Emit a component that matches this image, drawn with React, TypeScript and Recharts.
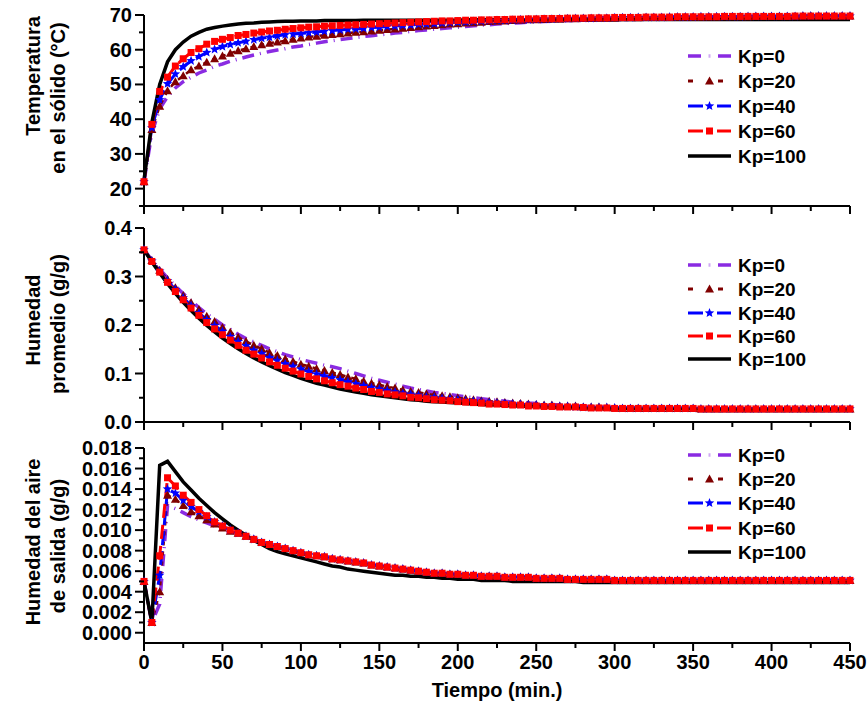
import React from "react";
import { LineChart, Line, XAxis, YAxis } from "recharts";

// time axis (min)
const time = [0,5,10,15,20,25,30,35,40,45,50,55,60,65,70,75,80,85,90,95,100,105,110,115,120,125,130,135,140,145,150,155,160,165,170,175,180,185,190,195,200,205,210,215,220,225,230,235,240,245,250,255,260,265,270,275,280,285,290,295,300,305,310,315,320,325,330,335,340,345,350,355,360,365,370,375,380,385,390,395,400,405,410,415,420,425,430,435,440,445,450];

// panel 1: temperatura en el sólido (°C)
const tempKp0 = [22,36,43,46.5,49,50.8,52.1,53.3,54.2,55.2,55.9,56.7,57.3,57.9,58.5,59,59.5,59.9,60.3,60.8,61.1,61.5,61.9,62.3,62.6,
  62.9,63.2,63.5,63.8,64,64.3,64.5,64.8,65,65.3,65.5,65.7,65.9,66.1,66.3,66.5,66.7,66.9,67.1,67.2,67.4,67.5,67.7,67.8,67.9,68,68.1,68.2,68.3,68.4,68.5,68.5,68.6,68.7,68.7,68.8,
  68.8,68.9,68.9,69,69,69,69.1,69.1,69.1,69.2,69.2,69.2,69.3,69.3,
  69.3,69.3,69.4,69.4,69.4,69.4,69.5,69.5,69.5,69.5,69.5,69.6,69.6,69.6,69.6,69.6];
const tempKp20 = [22,37,43.7,48.2,50.8,52.5,54.2,55.3,56.4,57.4,58.2,59,59.7,60.3,60.9,61.4,61.9,62.2,62.6,63,63.4,63.7,63.9,64.2,64.4,
  64.6,64.8,65,65.2,65.4,65.6,65.8,66,66.2,66.4,66.6,66.8,67,67.2,67.4,67.5,67.7,67.8,67.9,68.1,68.2,68.3,68.4,68.5,68.6,68.6,68.7,68.8,68.8,68.9,68.9,69,69,69.1,69.1,69.1,
  69.2,69.2,69.2,69.3,69.3,69.3,69.3,69.4,69.4,69.4,69.4,69.5,69.5,69.5,
  69.5,69.5,69.5,69.6,69.6,69.6,69.6,69.6,69.6,69.7,69.7,69.7,69.7,69.7,69.7,69.7];
const tempKp40 = [22,37.5,45.6,50.2,53,55.1,56.8,58,59.2,60.1,60.9,61.5,62,62.4,62.9,63.3,63.6,64,64.3,64.5,64.7,64.9,65.1,65.3,65.5,
  65.7,65.9,66,66.2,66.4,66.5,66.7,66.8,67,67.1,67.3,67.4,67.5,67.7,67.8,67.9,68,68.1,68.2,68.3,68.4,68.4,68.5,68.6,68.6,68.7,68.8,68.8,68.9,68.9,69,69,69,69.1,69.1,69.2,
  69.2,69.2,69.3,69.3,69.3,69.3,69.4,69.4,69.4,69.4,69.5,69.5,69.5,69.5,
  69.5,69.5,69.6,69.6,69.6,69.6,69.6,69.6,69.6,69.7,69.7,69.7,69.7,69.7,69.7,69.7];
const tempKp60 = [22,38.5,48,52.1,55.3,57.4,59.2,60.3,61.6,62.4,63,63.5,64.1,64.4,64.8,65.1,65.4,65.6,65.9,66.1,66.3,66.5,66.6,66.8,66.9,
  67,67.1,67.2,67.3,67.4,67.5,67.6,67.7,67.8,67.9,68,68.1,68.2,68.3,68.3,68.4,68.5,68.5,68.6,68.6,68.7,68.7,68.8,68.8,68.9,68.9,69,69,69,69.1,69.1,69.1,69.2,69.2,69.2,69.3,
  69.3,69.3,69.3,69.4,69.4,69.4,69.4,69.5,69.5,69.5,69.5,69.5,69.5,69.6,
  69.6,69.6,69.6,69.6,69.6,69.6,69.6,69.6,69.7,69.7,69.7,69.7,69.7,69.7,69.7,69.7];
const tempKp100 = [22.5,39,50,56.5,60,62.2,63.9,65,65.9,66.4,66.8,67.1,67.4,67.6,67.7,67.9,68,68.1,68.2,68.2,68.3,
  68.3,68.3,68.4,68.4,68.4,68.4,68.4,68.5,68.5,
  68.5,68.5,68.5,68.5,68.5,68.5,68.5,68.5,68.5,68.5,68.5,
  68.6,68.6,68.6,68.6,68.6,68.6,68.6,68.6,68.6,68.6,68.6,68.6,68.6,68.6,68.6,68.6,68.6,68.6,68.6,68.6,
  68.7,68.7,68.7,68.7,68.7,68.7,68.7,68.7,68.7,68.7,68.7,68.7,68.7,68.7,68.7,68.7,68.7,68.7,68.7,68.7,68.7,68.7,68.7,68.7,68.7,68.7,68.7,68.7,68.7,68.7];

// panel 2: humedad promedio (g/g)
const moistKp0 = [0.355,0.334,0.315,0.297,0.28,0.265,0.25,0.236,0.223,0.212,0.2,0.191,0.181,0.172,0.165,0.158,0.151,0.145,0.139,0.134,0.129,0.125,0.121,0.117,0.114,
  0.11,0.105,0.1,0.095,0.09,0.086,0.082,0.078,0.074,0.07,0.067,0.064,0.061,0.059,0.057,0.054,0.052,0.05,0.048,0.046,0.045,0.043,0.041,0.041,0.039,0.038,0.037,0.036,0.035,0.034,0.034,0.032,0.032,0.031,0.031,0.03,
  0.029,0.029,0.029,0.029,0.029,0.028,0.028,0.028,0.028,0.028,0.028,0.028,0.028,0.028,0.028,
  0.027,0.027,0.027,0.027,0.027,0.027,0.027,0.027,0.027,0.027,0.027,0.027,0.027,0.027,0.027];
const moistKp20 = [0.355,0.333,0.313,0.294,0.277,0.261,0.246,0.232,0.218,0.207,0.195,0.185,0.175,0.166,0.158,0.151,0.143,0.137,0.13,0.125,0.119,0.115,0.11,0.106,0.102,
  0.098,0.093,0.089,0.084,0.08,0.077,0.073,0.07,0.066,0.063,0.061,0.058,0.056,0.054,0.052,0.05,0.048,0.046,0.044,0.043,0.042,0.04,0.039,0.038,0.037,0.036,0.035,0.035,0.033,0.033,0.033,0.031,0.031,0.031,0.03,0.029,
  0.028,0.028,0.028,0.028,0.028,0.028,0.028,0.028,0.028,0.028,
  0.027,0.027,0.027,0.027,0.027,0.027,0.027,0.027,0.027,0.027,0.027,0.027,0.027,0.027,0.027,0.027,0.027,0.027,0.027,0.027];
const moistKp40 = [0.355,0.332,0.311,0.291,0.273,0.256,0.24,0.225,0.211,0.199,0.187,0.176,0.166,0.157,0.148,0.141,0.133,0.127,0.12,0.115,0.109,0.104,0.099,0.095,0.091,
  0.087,0.083,0.079,0.075,0.071,0.068,0.065,0.062,0.059,0.057,0.055,0.052,0.051,0.049,0.048,0.046,0.044,0.043,0.041,0.04,0.039,0.038,0.037,0.036,0.035,0.035,0.033,0.033,0.032,0.032,0.031,0.03,0.03,0.03,0.03,0.029,
  0.028,0.028,0.028,0.028,0.028,0.028,0.028,0.028,0.028,0.028,
  0.027,0.027,0.027,0.027,0.027,0.027,0.027,0.027,0.027,0.027,0.027,0.027,0.027,0.027,0.027,0.027,0.027,0.027,0.027,0.027];
const moistKp60 = [0.355,0.331,0.309,0.288,0.269,0.252,0.235,0.22,0.205,0.192,0.18,0.169,0.158,0.148,0.14,0.132,0.124,0.117,0.111,0.105,0.099,0.094,0.089,0.085,0.081,
  0.077,0.074,0.07,0.067,0.063,0.061,0.058,0.056,0.054,0.051,0.05,0.048,0.046,0.045,0.044,0.042,0.041,0.04,0.039,0.037,0.037,0.036,0.035,0.035,0.033,0.033,0.032,0.032,0.031,0.031,0.031,0.03,0.029,0.029,0.029,0.028,
  0.028,0.028,0.028,0.028,0.028,0.028,0.028,0.028,0.028,0.028,
  0.027,0.027,0.027,0.027,0.027,0.027,0.027,0.027,0.027,0.027,0.027,0.027,0.027,0.027,0.027,0.027,0.027,0.027,0.027,0.027];
const moistKp100 = [0.355,0.33,0.307,0.285,0.265,0.247,0.23,0.214,0.199,0.186,0.173,0.162,0.151,0.141,0.132,0.124,0.116,0.109,0.102,0.096,0.09,0.085,0.08,0.076,0.072,
  0.068,0.065,0.062,0.059,0.056,0.054,0.052,0.05,0.048,0.046,0.045,0.043,0.042,0.041,0.04,0.039,0.038,0.037,0.036,0.035,0.035,0.034,0.033,0.033,0.032,0.032,0.031,0.031,0.03,0.03,0.03,0.029,0.029,0.029,0.029,0.028,
  0.028,0.028,0.028,0.028,0.028,0.028,0.028,0.028,0.028,0.028,
  0.027,0.027,0.027,0.027,0.027,0.027,0.027,0.027,0.027,0.027,0.027,0.027,0.027,0.027,0.027,0.027,0.027,0.027,0.027,0.027];

// panel 3: humedad del aire de salida (g/g); from t=60 the marker series coincide
const airTail = [0.0097,0.0094,0.0091,0.0088,0.0086,0.0084,0.0082,0.008,0.0078,0.0076,0.0075,0.0074,0.0072,0.0071,0.007,0.0069,0.0068,
  0.0066,0.0065,0.0064,0.0063,0.0062,0.0061,0.006,0.0059,0.0058,0.0058,0.0057,0.0057,0.0056,0.0056,0.0055,0.0055,0.0055,0.0054,0.0054,0.0054,0.0054,0.0053,0.0053,0.0053,0.0053,0.0052,0.0052,0.0052,0.0052,0.0052,0.0052,0.0051,
  0.0051,0.0051,0.0051,0.0051,0.0051,0.0051,0.0051,0.0051,0.0051,0.0051,0.0051,0.0051,0.0051,0.0051,0.0051,0.0051,0.0051,0.0051,0.0051,0.0051,0.0051,0.0051,0.0051,0.0051,0.0051,0.0051,0.0051,0.0051,0.0051,0.0051];
const airKp0 = [0.005,0.001,0.0028,0.0124,0.0121,0.0117,0.0113,0.011,0.0107,0.0104,0.0101,0.0098, ...airTail];
const airKp20 = [0.005,0.001,0.004,0.0134,0.013,0.0124,0.0118,0.0114,0.011,0.0106,0.0102,0.0099, ...airTail];
const airKp40 = [0.005,0.001,0.0056,0.014,0.0136,0.0129,0.0123,0.0118,0.0113,0.0108,0.0104,0.01, ...airTail];
const airKp60 = [0.005,0.001,0.0075,0.0151,0.0143,0.0134,0.0127,0.012,0.0114,0.0108,0.0104,0.01, ...airTail];
const airKp100 = [0.005,0.001,0.0163,0.0167,0.0157,0.0147,0.0139,0.0131,0.0124,0.0117,0.0111,0.0105,0.01,0.0095,0.009,0.0086,0.0082,0.0079,0.0077,0.0075,0.0073,0.0071,0.0069,0.0067,0.0065,
  0.0064,0.0062,0.0061,0.006,0.0059,0.0058,0.0057,0.0056,0.0056,0.0055,0.0055,0.0054,0.0054,0.0053,0.0053,0.0052,0.0052,0.0052,0.0051,0.0051,0.0051,0.0051,0.005,0.005,0.005,0.005,
  0.005,0.005,0.005,0.005,0.005,0.0049,0.0049,0.0049,0.0049,0.0049,
  0.0049,0.0049,0.0049,0.0049,0.0049,0.0049,0.0049,0.0049,0.0049,0.0049,0.0049,0.0049,0.0049,0.0049,0.0049,0.0049,0.0049,0.0049,0.0049,0.0049,0.0049,0.0049,0.0049,0.0049,0.0049,0.0049,0.0049,0.0049,0.0049,0.0049];

const xTicks = [0,25,50,75,100,125,150,175,200,225,250,275,300,325,350,375,400,425,450];
const tempTicks = [15,20,25,30,35,40,45,50,55,60,65,70];
const moistTicks = [0,0.05,0.1,0.15,0.2,0.25,0.3,0.35,0.4];
const airTicks = [0,0.001,0.002,0.003,0.004,0.005,0.006,0.007,0.008,0.009,0.01,0.011,0.012,0.013,0.014,0.015,0.016,0.017,0.018];
const seriesNames = ["Kp=0", "Kp=20", "Kp=40", "Kp=60", "Kp=100"];

const FONT = '"Liberation Sans", Arial, Helvetica, sans-serif';
const W = 867;
const H = 704;

const styles = [
  { key: "k0", color: "#8a2be2", dash: "12 6 1 6", width: 3.5, marker: null },
  { key: "k20", color: "#800000", dash: "4 6", width: 2.5, marker: "triangle" },
  { key: "k40", color: "#0000ff", dash: "14 6", width: 3, marker: "star" },
  { key: "k60", color: "#ff0000", dash: "14 7", width: 3, marker: "square" },
  { key: "k100", color: "#000000", dash: undefined, width: 3.5, marker: null },
];

function Marker({ kind, cx, cy, color }: any) {
  if (cx == null || cy == null) return null;
  if (kind === "square") {
    return <rect x={cx - 3.5} y={cy - 3.5} width={7} height={7} fill={color} />;
  }
  if (kind === "triangle") {
    return <polygon points={`${cx},${cy - 4.5} ${cx + 4.5},${cy + 3.5} ${cx - 4.5},${cy + 3.5}`} fill={color} />;
  }
  if (kind === "star") {
    const pts: string[] = [];
    for (let i = 0; i < 10; i++) {
      const r = i % 2 === 0 ? 5 : 2.2;
      const a = -Math.PI / 2 + (i * Math.PI) / 5;
      pts.push(`${cx + r * Math.cos(a)},${cy + r * Math.sin(a)}`);
    }
    return <polygon points={pts.join(" ")} fill={color} />;
  }
  return null;
}

function XTick({ x, y, payload, showLabel }: any) {
  const v = payload.value;
  const major = v % 50 === 0;
  return (
    <g>
      <line x1={x} x2={x} y1={y} y2={y + (major ? 8 : 5)} stroke="#000" strokeWidth={2} />
      {showLabel && major && (
        <text x={x} y={y + 26} textAnchor="middle" fontFamily={FONT} fontWeight="bold" fontSize={20} fill="#000">
          {v}
        </text>
      )}
    </g>
  );
}

function YTick({ x, y, payload, isMajor, format }: any) {
  const v = payload.value;
  const major = isMajor(v);
  return (
    <g>
      <line x1={x} x2={x - (major ? 9 : 5)} y1={y} y2={y} stroke="#000" strokeWidth={2} />
      {major && (
        <text x={x - 12} y={y + 7} textAnchor="end" fontFamily={FONT} fontWeight="bold" fontSize={20} fill="#000">
          {format(v)}
        </text>
      )}
    </g>
  );
}

const panels = [
  {
    series: [tempKp0, tempKp20, tempKp40, tempKp60, tempKp100],
    domain: [15, 70],
    ticks: tempTicks,
    top: 15,
    bottom: 206,
    isMajor: (v: number) => v % 10 === 0,
    format: (v: number) => String(v),
    showX: false,
  },
  {
    series: [moistKp0, moistKp20, moistKp40, moistKp60, moistKp100],
    domain: [0, 0.4],
    ticks: moistTicks,
    top: 228,
    bottom: 422,
    isMajor: (v: number) => Math.round(v * 100) % 10 === 0,
    format: (v: number) => v.toFixed(1),
    showX: false,
  },
  {
    series: [airKp0, airKp20, airKp40, airKp60, airKp100],
    domain: [-0.001, 0.018],
    ticks: airTicks,
    top: 448,
    bottom: 643,
    isMajor: (v: number) => Math.round(v * 1000) % 2 === 0,
    format: (v: number) => v.toFixed(3),
    showX: true,
  },
];

const legendRows = [
  [56, 81, 106, 131, 156],
  [265, 289, 313, 336, 359],
  [455, 479, 503, 528, 552],
];

function LegendSample({ idx, y }: { idx: number; y: number }) {
  const s = styles[idx];
  const x0 = 688;
  const x1 = 731;
  const mid = 709.5;
  let line: React.ReactNode;
  if (idx === 0) {
    line = (
      <g stroke={s.color} strokeWidth={3.5}>
        <line x1={x0} x2={x0 + 13} y1={y} y2={y} />
        <line x1={mid - 1} x2={mid + 1} y1={y} y2={y} strokeOpacity={0.4} />
        <line x1={x1 - 13} x2={x1} y1={y} y2={y} />
      </g>
    );
  } else if (idx === 1) {
    line = (
      <g stroke={s.color} strokeWidth={3}>
        <line x1={x0} x2={x0 + 5} y1={y} y2={y} />
        <line x1={x1 - 13} x2={x1 - 8} y1={y} y2={y} />
      </g>
    );
  } else if (idx === 4) {
    line = <line x1={x0} x2={x1} y1={y} y2={y} stroke={s.color} strokeWidth={3.5} />;
  } else {
    line = (
      <g stroke={s.color} strokeWidth={3}>
        <line x1={x0} x2={x0 + 15} y1={y} y2={y} />
        <line x1={x1 - 14} x2={x1} y1={y} y2={y} />
      </g>
    );
  }
  return (
    <g>
      {line}
      {s.marker && <Marker kind={s.marker} cx={mid} cy={y} color={s.color} />}
      <text x={738} y={y + 7} fontFamily={FONT} fontWeight="bold" fontSize={19} fill="#000">
        {seriesNames[idx]}
      </text>
    </g>
  );
}

function TitleLines({ lines }: { lines: { text: string; x: number; y: number }[] }) {
  return (
    <>
      {lines.map((l) => (
        <text
          key={l.text}
          transform={`translate(${l.x},${l.y}) rotate(-90)`}
          textAnchor="middle"
          fontFamily={FONT}
          fontWeight="bold"
          fontSize={20}
          fill="#000"
        >
          {l.text}
        </text>
      ))}
    </>
  );
}

export default function App() {
  return (
    <div style={{ position: "absolute", left: 0, top: 0, width: W, height: H, background: "#fff" }}>
      {panels.map((p, pi) => {
        const data = time.map((t, i) => ({
          t,
          k0: p.series[0][i],
          k20: p.series[1][i],
          k40: p.series[2][i],
          k60: p.series[3][i],
          k100: p.series[4][i],
        }));
        return (
          <div key={pi} style={{ position: "absolute", left: 0, top: 0 }}>
            <LineChart
              width={W}
              height={H}
              data={data}
              margin={{ top: p.top, right: 17, bottom: H - p.bottom - 20, left: 84 }}
            >
              <XAxis
                dataKey="t"
                type="number"
                domain={[0, 450]}
                ticks={xTicks}
                interval={0}
                height={20}
                tickSize={0}
                tickMargin={0}
                tickLine={false}
                axisLine={{ stroke: "#000", strokeWidth: 2 }}
                tick={(tp: any) => <XTick {...tp} showLabel={p.showX} />}
              />
              <YAxis
                type="number"
                domain={p.domain}
                ticks={p.ticks}
                interval={0}
                width={60}
                tickSize={0}
                tickMargin={0}
                tickLine={false}
                axisLine={{ stroke: "#000", strokeWidth: 2 }}
                tick={(tp: any) => <YTick {...tp} isMajor={p.isMajor} format={p.format} />}
              />
              {styles.map((s) => (
                <Line
                  key={s.key}
                  dataKey={s.key}
                  type="linear"
                  stroke={s.color}
                  strokeWidth={s.width}
                  strokeDasharray={s.dash}
                  isAnimationActive={false}
                  activeDot={false}
                  dot={
                    s.marker
                      ? (dp: any) => (
                          <Marker key={`${s.key}-${dp.index}`} kind={s.marker} cx={dp.cx} cy={dp.cy} color={s.color} />
                        )
                      : false
                  }
                />
              ))}
            </LineChart>
          </div>
        );
      })}
      <svg width={W} height={H} style={{ position: "absolute", left: 0, top: 0, pointerEvents: "none" }}>
        <TitleLines
          lines={[
            { text: "Temperatura", x: 40, y: 76 },
            { text: "en el sólido (°C)", x: 65, y: 98 },
            { text: "Humedad", x: 40, y: 320 },
            { text: "promedio (g/g)", x: 65, y: 324 },
            { text: "Humedad del aire", x: 40, y: 542 },
            { text: "de salida (g/g)", x: 65, y: 546 },
          ]}
        />
        <text x={497} y={697} textAnchor="middle" fontFamily={FONT} fontWeight="bold" fontSize={20} fill="#000">
          Tiempo (min.)
        </text>
        {legendRows.map((rows, pi) =>
          rows.map((y, i) => <LegendSample key={`${pi}-${i}`} idx={i} y={y} />)
        )}
      </svg>
    </div>
  );
}
